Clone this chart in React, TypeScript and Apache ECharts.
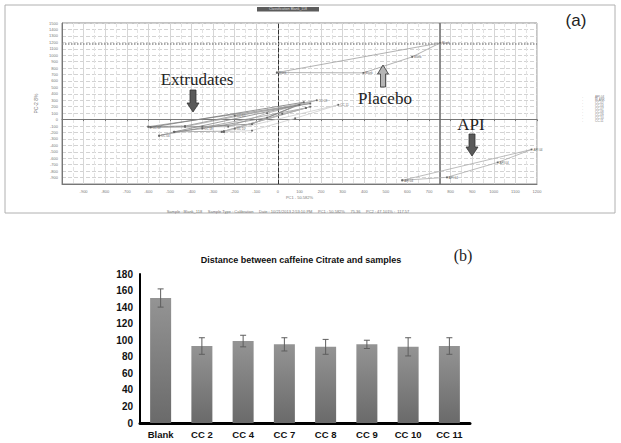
import React, { useEffect, useRef } from "react";
import * as echarts from "echarts";

// ---------- (a) PCA scores plot ----------
const placeboPts: number[][] = [[-5, 730], [396, 726], [622, 974], [751, 1190]];
const apiPts: number[][] = [[576, -943], [783, -896], [1018, -665], [1175, -464]];
const extrudateNames = ["CC 02", "CC 04", "CC 07", "CC 08", "CC 09", "CC 10", "CC 11"];
const cc02: number[][] = [[-600, -110], [-430, -100], [-200, 60], [150, 250]];
const cc04: number[][] = [[-550, -250], [-480, -190], [-250, -180], [130, 180]];
const cc07: number[][] = [[-590, -120], [-350, -110], [-120, -70], [120, 270]];
const cc08: number[][] = [[-430, -110], [-230, -110], [-50, 100], [180, 300]];
const cc09: number[][] = [[-480, -190], [-350, -140], [-50, 30], [100, 230]];
const cc10: number[][] = [[-260, -190], [-200, -140], [20, 90], [150, 200]];
const cc11: number[][] = [[-250, -190], [-120, -170], [80, 20], [280, 230]];
const extrudatePts = [cc02, cc04, cc07, cc08, cc09, cc10, cc11];
const extrudateLabelAt = [2, 0, 0, 3, 1, 1, 3];
const legendNames = ["API-04", "BLANK", "CC-02", "CC-04", "CC-07", "CC-08", "CC-09", "CC-10", "CC-11"];
const selectedX = 750;
const selectedY = 1180;

// ---------- (b) bar chart ----------
const barCategories = ["Blank", "CC 2", "CC 4", "CC 7", "CC 8", "CC 9", "CC 10", "CC 11"];
const barValues = [151, 93, 99, 95, 92, 95, 92, 93];
const barErrors = [11, 10, 7, 8, 9, 5, 11, 10];

const extColors = ["#8e8e8e", "#9a9a9a", "#7a7a7a", "#a6a6a6", "#858585", "#b0b0b0", "#cdcdcd"];

function closedData(pts: number[][], name: string, labelIdx: number[]) {
  return pts.concat([pts[0]]).map((p, i) => ({
    value: p,
    label: { show: i < pts.length && labelIdx.indexOf(i) >= 0, formatter: name },
  }));
}

function downArrow(cx: number, y0: number, fill: string) {
  return {
    type: "polygon",
    shape: {
      points: [
        [cx - 3, y0], [cx + 3, y0], [cx + 3, y0 + 13], [cx + 6, y0 + 13],
        [cx, y0 + 22], [cx - 6, y0 + 13], [cx - 3, y0 + 13],
      ],
    },
    style: { fill, stroke: "#333", lineWidth: 0.8 },
  };
}

function upArrow(cx: number, y0: number, fill: string) {
  return {
    type: "polygon",
    shape: {
      points: [
        [cx, y0], [cx + 5.5, y0 + 9], [cx + 2.5, y0 + 9], [cx + 2.5, y0 + 22],
        [cx - 2.5, y0 + 22], [cx - 2.5, y0 + 9], [cx - 5.5, y0 + 9],
      ],
    },
    style: { fill, stroke: "#333", lineWidth: 0.8 },
  };
}

export default function App() {
  const ref = useRef<HTMLDivElement>(null);
  useEffect(() => {
    if (!ref.current) return;
    const chart = echarts.init(ref.current, undefined, { renderer: "svg" });
    const tiny = { fontSize: 4, color: "#777", fontFamily: "Liberation Sans" };
    const plain = (v: number) => String(v);
    const pcaLine = (name: string, pts: number[][], color: string, labelIdx: number[], extra: any = {}) => ({
      type: "line",
      name,
      xAxisIndex: 0,
      yAxisIndex: 0,
      data: closedData(pts, name, labelIdx),
      symbol: "rect",
      symbolSize: 1.8,
      itemStyle: { color: "#666" },
      lineStyle: { color, width: 0.8 },
      label: { position: "right", fontSize: 3, color: "#666", distance: 1 },
      z: 5,
      ...extra,
    });

    const series: any[] = [
      pcaLine("Blank", placeboPts, "#a0a0a0", [0, 1, 2, 3], {
        markLine: {
          silent: true,
          symbol: "none",
          label: { show: false },
          data: [
            { xAxis: selectedX, lineStyle: { color: "#6a6a6a", width: 1.5, type: "solid" } },
            { yAxis: selectedY, lineStyle: { color: "#8a8a8a", width: 1.5, type: "dotted" } },
          ],
        },
      }),
      pcaLine("API 04", apiPts, "#ababab", [0, 1, 2, 3]),
      ...extrudatePts.map((p, i) => pcaLine(extrudateNames[i], p, extColors[i], [extrudateLabelAt[i]])),
      {
        type: "bar",
        xAxisIndex: 2,
        yAxisIndex: 2,
        data: barValues,
        barWidth: 21,
        itemStyle: {
          color: new echarts.graphic.LinearGradient(0, 0, 0, 1, [
            { offset: 0, color: "#949494" },
            { offset: 1, color: "#6a6a6a" },
          ]),
        },
      },
      {
        type: "custom",
        xAxisIndex: 2,
        yAxisIndex: 2,
        data: barCategories.map((c, i) => [i, barValues[i] - barErrors[i], barValues[i] + barErrors[i]]),
        encode: { x: 0, y: [1, 2] },
        z: 10,
        renderItem: (params: any, api: any) => {
          const x = api.value(0);
          const lo = api.coord([x, api.value(1)]);
          const hi = api.coord([x, api.value(2)]);
          const st = { stroke: "#5e5e5e", lineWidth: 1 };
          const w = 3;
          return {
            type: "group",
            children: [
              { type: "line", shape: { x1: lo[0], y1: lo[1], x2: hi[0], y2: hi[1] }, style: st },
              { type: "line", shape: { x1: hi[0] - w, y1: hi[1], x2: hi[0] + w, y2: hi[1] }, style: st },
              { type: "line", shape: { x1: lo[0] - w, y1: lo[1], x2: lo[0] + w, y2: lo[1] }, style: st },
            ],
          };
        },
      },
    ];

    const option: any = {
      animation: false,
      backgroundColor: "#fff",
      title: [
        {
          text: "Distance between caffeine Citrate and samples",
          left: 296,
          top: 250,
          textAlign: "center",
          textStyle: { fontSize: 9, fontWeight: "bold", color: "#111", fontFamily: "Liberation Sans" },
        },
      ],
      grid: [
        { left: 62, top: 23, width: 475, height: 161, show: true, borderColor: "#888", borderWidth: 1 },
        { left: 140, top: 274, width: 330, height: 149 },
      ],
      xAxis: [
        {
          type: "value",
          gridIndex: 0,
          min: -1000,
          max: 1200,
          interval: 100,
          axisLine: { onZero: false, lineStyle: { color: "#777" } },
          axisTick: { show: false },
          axisLabel: { ...tiny, showMinLabel: false, margin: 5, formatter: plain },
          splitLine: { lineStyle: { color: "#d6d6d6" } },
          minorTick: { show: false, splitNumber: 2 },
          minorSplitLine: { show: true, lineStyle: { color: "#e2e2e2", type: "dashed" } },
          name: "PC1 - 50.582%",
          nameLocation: "middle",
          nameGap: 11,
          nameTextStyle: tiny,
        },
        {
          type: "value",
          gridIndex: 0,
          min: -1000,
          max: 1200,
          interval: 100,
          position: "bottom",
          axisLine: { onZero: true, lineStyle: { color: "#777" } },
          axisTick: { show: true, length: 1.5, lineStyle: { color: "#777" } },
          axisLabel: { show: false },
          splitLine: { show: false },
        },
        {
          type: "category",
          gridIndex: 1,
          data: barCategories,
          axisLine: { lineStyle: { color: "#000", width: 3 } },
          axisTick: { show: false },
          axisLabel: { fontSize: 9.5, fontWeight: "bold", color: "#111", fontFamily: "Liberation Sans", margin: 6 },
        },
      ],
      yAxis: [
        {
          type: "value",
          gridIndex: 0,
          min: -1000,
          max: 1500,
          interval: 100,
          axisLine: { show: true, onZero: false, lineStyle: { color: "#777" } },
          axisTick: { show: false },
          axisLabel: { ...tiny, showMinLabel: false, margin: 4, formatter: plain },
          splitLine: { lineStyle: { color: "#d3d3d3", type: "dashed" } },
          name: "PC-2 8%",
          nameLocation: "middle",
          nameGap: 20,
          nameRotate: 90,
          nameTextStyle: { ...tiny, fontSize: 5 },
        },
        {
          type: "value",
          gridIndex: 0,
          min: -1000,
          max: 1500,
          interval: 100,
          position: "left",
          axisLine: { show: true, onZero: true, lineStyle: { color: "#333", type: "dashed", width: 1 } },
          axisTick: { show: false },
          axisLabel: { show: false },
          splitLine: { show: false },
        },
        {
          type: "value",
          gridIndex: 1,
          min: 0,
          max: 180,
          interval: 20,
          axisLine: { show: true, lineStyle: { color: "#000", width: 2 } },
          axisTick: { show: false },
          axisLabel: { fontSize: 10, fontWeight: "bold", color: "#111", fontFamily: "Liberation Sans", margin: 7 },
          splitLine: { show: false },
        },
      ],
      series,
      graphic: [
        { type: "rect", shape: { x: 5, y: 5, width: 610, height: 208 }, style: { fill: "none", stroke: "#b0b0b0", lineWidth: 1 }, z: -1 },
        { type: "rect", shape: { x: 257, y: 7, width: 62, height: 4.5 }, style: { fill: "#5c5c5c" } },
        { type: "text", x: 288, y: 9.3, style: { text: "Classification Blank_118", fontSize: 3.5, fill: "#ddd", align: "center", verticalAlign: "middle" } },
        {
          type: "text", x: 288, y: 211,
          style: {
            text: "Sample : Blank_118     Sample Type : Calibration     Date : 10/21/2013 2:53:10 PM     PC1 : 50.582%     75.36     PC2 : 47.101% :  117.57",
            fontSize: 4, fill: "#777", align: "center", verticalAlign: "middle", fontFamily: "Liberation Sans",
          },
        },
        ...legendNames.map((n, i) => ({
          type: "group",
          children: [
            { type: "text", x: 582, y: 97 + i * 3, style: { text: "·", fontSize: 4, fill: "#777", verticalAlign: "middle" } },
            { type: "text", x: 595, y: 97 + i * 3, style: { text: n, fontSize: 3, fill: "#777", verticalAlign: "middle", fontFamily: "Liberation Sans" } },
          ],
        })),
        { type: "text", x: 197, y: 79, style: { text: "Extrudates", fontSize: 17, fill: "#222", fontFamily: "Liberation Serif", align: "center", verticalAlign: "middle" }, z: 20 },
        { type: "text", x: 385, y: 98, style: { text: "Placebo", fontSize: 17, fill: "#222", fontFamily: "Liberation Serif", align: "center", verticalAlign: "middle" }, z: 20 },
        { type: "text", x: 471, y: 124, style: { text: "API", fontSize: 17, fill: "#222", fontFamily: "Liberation Serif", align: "center", verticalAlign: "middle" }, z: 20 },
        { ...downArrow(193, 90, "#5a5a5a"), z: 20 },
        { ...upArrow(383, 65, "#b5b5b5"), z: 20 },
        { ...downArrow(472, 134, "#5a5a5a"), z: 20 },
        { type: "text", x: 576, y: 20, style: { text: "(a)", fontSize: 17, fill: "#222", fontFamily: "Liberation Sans", align: "center", verticalAlign: "middle" }, z: 20 },
        { type: "text", x: 463, y: 255, style: { text: "(b)", fontSize: 16, fill: "#222", fontFamily: "Liberation Serif", align: "center", verticalAlign: "middle" }, z: 20 },
      ],
    };
    chart.setOption(option);
    return () => chart.dispose();
  }, []);
  return <div ref={ref} style={{ position: "absolute", left: 0, top: 0, width: 621, height: 443 }} />;
}
